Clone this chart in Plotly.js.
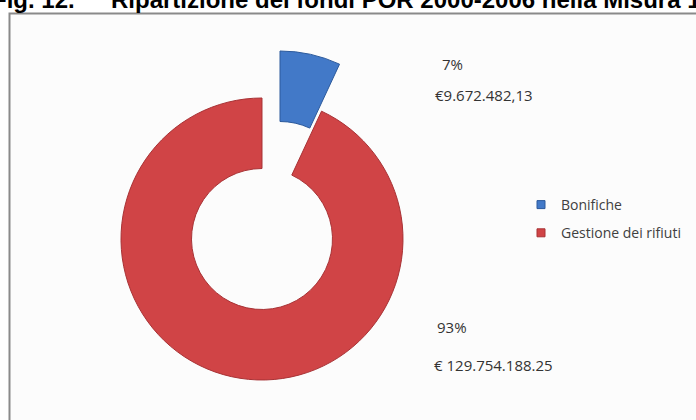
<!DOCTYPE html>
<html><head><meta charset="utf-8">
<script src="https://cdn.plot.ly/plotly-3.0.1.min.js"></script>
<style>html,body{margin:0;padding:0;background:#fff;}</style>
</head><body>
<div id="chart" style="width:696px;height:420px;"></div>
<script>
const categories = ["Bonifiche", "Gestione dei rifiuti"];
const amounts = [9672482.13, 129754188.25];
const percentLabels = ["7%", "93%"];
const amountLabels = ["€9.672.482,13", "€ 129.754.188.25"];
const sliceColors = ["#4279c8", "#d04446"];
const sliceEdges = ["#2c5a9c", "#a83235"];
const titleParts = ["Fig. 12.", "Ripartizione dei fondi POR 2000-2006 nella Misura 1"];

const W = 696, H = 420;
const px = v => v / W;
const py = v => 1 - v / H;
const clear = "rgba(0,0,0,0)";

// main ring (all but the detached slice)
const ringDomain = {x: [px(121), px(403)], y: [py(380), py(98)]};
// detached slice, shifted outwards
const pulledDomain = {x: [px(139), px(421)], y: [py(333), py(51)]};

const common = {
  type: "pie", labels: categories, values: amounts, hole: 0.5,
  sort: false, direction: "clockwise", rotation: 0,
  textinfo: "none", hoverinfo: "label+percent", showlegend: false
};

const traces = [
  Object.assign({}, common, {
    domain: ringDomain,
    marker: {colors: [clear, sliceColors[1]], line: {color: [clear, sliceEdges[1]], width: 1}}
  }),
  Object.assign({}, common, {
    domain: pulledDomain,
    marker: {colors: [sliceColors[0], clear], line: {color: [sliceEdges[0], clear], width: 1}}
  })
];
categories.forEach((c, i) => {
  traces.push({
    type: "scatter", mode: "markers", x: [null], y: [null], name: c,
    legendgroup: "g" + i, showlegend: true, hoverinfo: "skip",
    marker: {symbol: "square", size: 8, color: sliceColors[i], line: {color: sliceEdges[i], width: 1}}
  });
});

const labelFont = {family: "Open Sans, sans-serif", size: 15, color: "#333333"};
const annPos = [
  {pct: [452, 64], amt: [484, 95]},
  {pct: [452, 327], amt: [493, 365]}
];
const annotations = [];
categories.forEach((c, i) => {
  annotations.push({text: percentLabels[i], x: px(annPos[i].pct[0]), y: py(annPos[i].pct[1]),
    xref: "paper", yref: "paper", showarrow: false, xanchor: "center", yanchor: "middle", font: labelFont});
  annotations.push({text: amountLabels[i], x: px(annPos[i].amt[0]), y: py(annPos[i].amt[1]),
    xref: "paper", yref: "paper", showarrow: false, xanchor: "center", yanchor: "middle", font: labelFont});
});
const titleFont = {family: "Liberation Sans, Arial, sans-serif", size: 24, color: "#000000", weight: "bold"};
annotations.push({text: "<b>" + titleParts[0] + "</b>", x: px(-10), y: py(-1), xref: "paper", yref: "paper",
  showarrow: false, xanchor: "left", yanchor: "middle", font: titleFont});
annotations.push({text: "<b>" + titleParts[1] + "</b>", x: px(109), y: py(-1), xref: "paper", yref: "paper",
  showarrow: false, xanchor: "left", yanchor: "middle", font: titleFont});

const layout = {
  width: W, height: H,
  margin: {l: 0, r: 0, t: 0, b: 0},
  paper_bgcolor: "#ffffff", plot_bgcolor: clear,
  xaxis: {visible: false, fixedrange: true},
  yaxis: {visible: false, fixedrange: true},
  showlegend: true,
  legend: {x: px(521), xanchor: "left", y: py(189), yanchor: "top",
    bgcolor: clear, borderwidth: 0, tracegroupgap: 7, traceorder: "grouped",
    font: {family: "Open Sans, sans-serif", size: 14, color: "#404040"}},
  shapes: [{type: "rect", xref: "paper", yref: "paper", layer: "below",
    x0: px(9.5), x1: 1.05, y0: -0.05, y1: py(13.5),
    line: {color: "#8a8a8a", width: 2}, fillcolor: "#fcfcfc"}],
  annotations: annotations
};

Plotly.newPlot("chart", traces, layout, {displayModeBar: false, staticPlot: true});
</script>
</body></html>
